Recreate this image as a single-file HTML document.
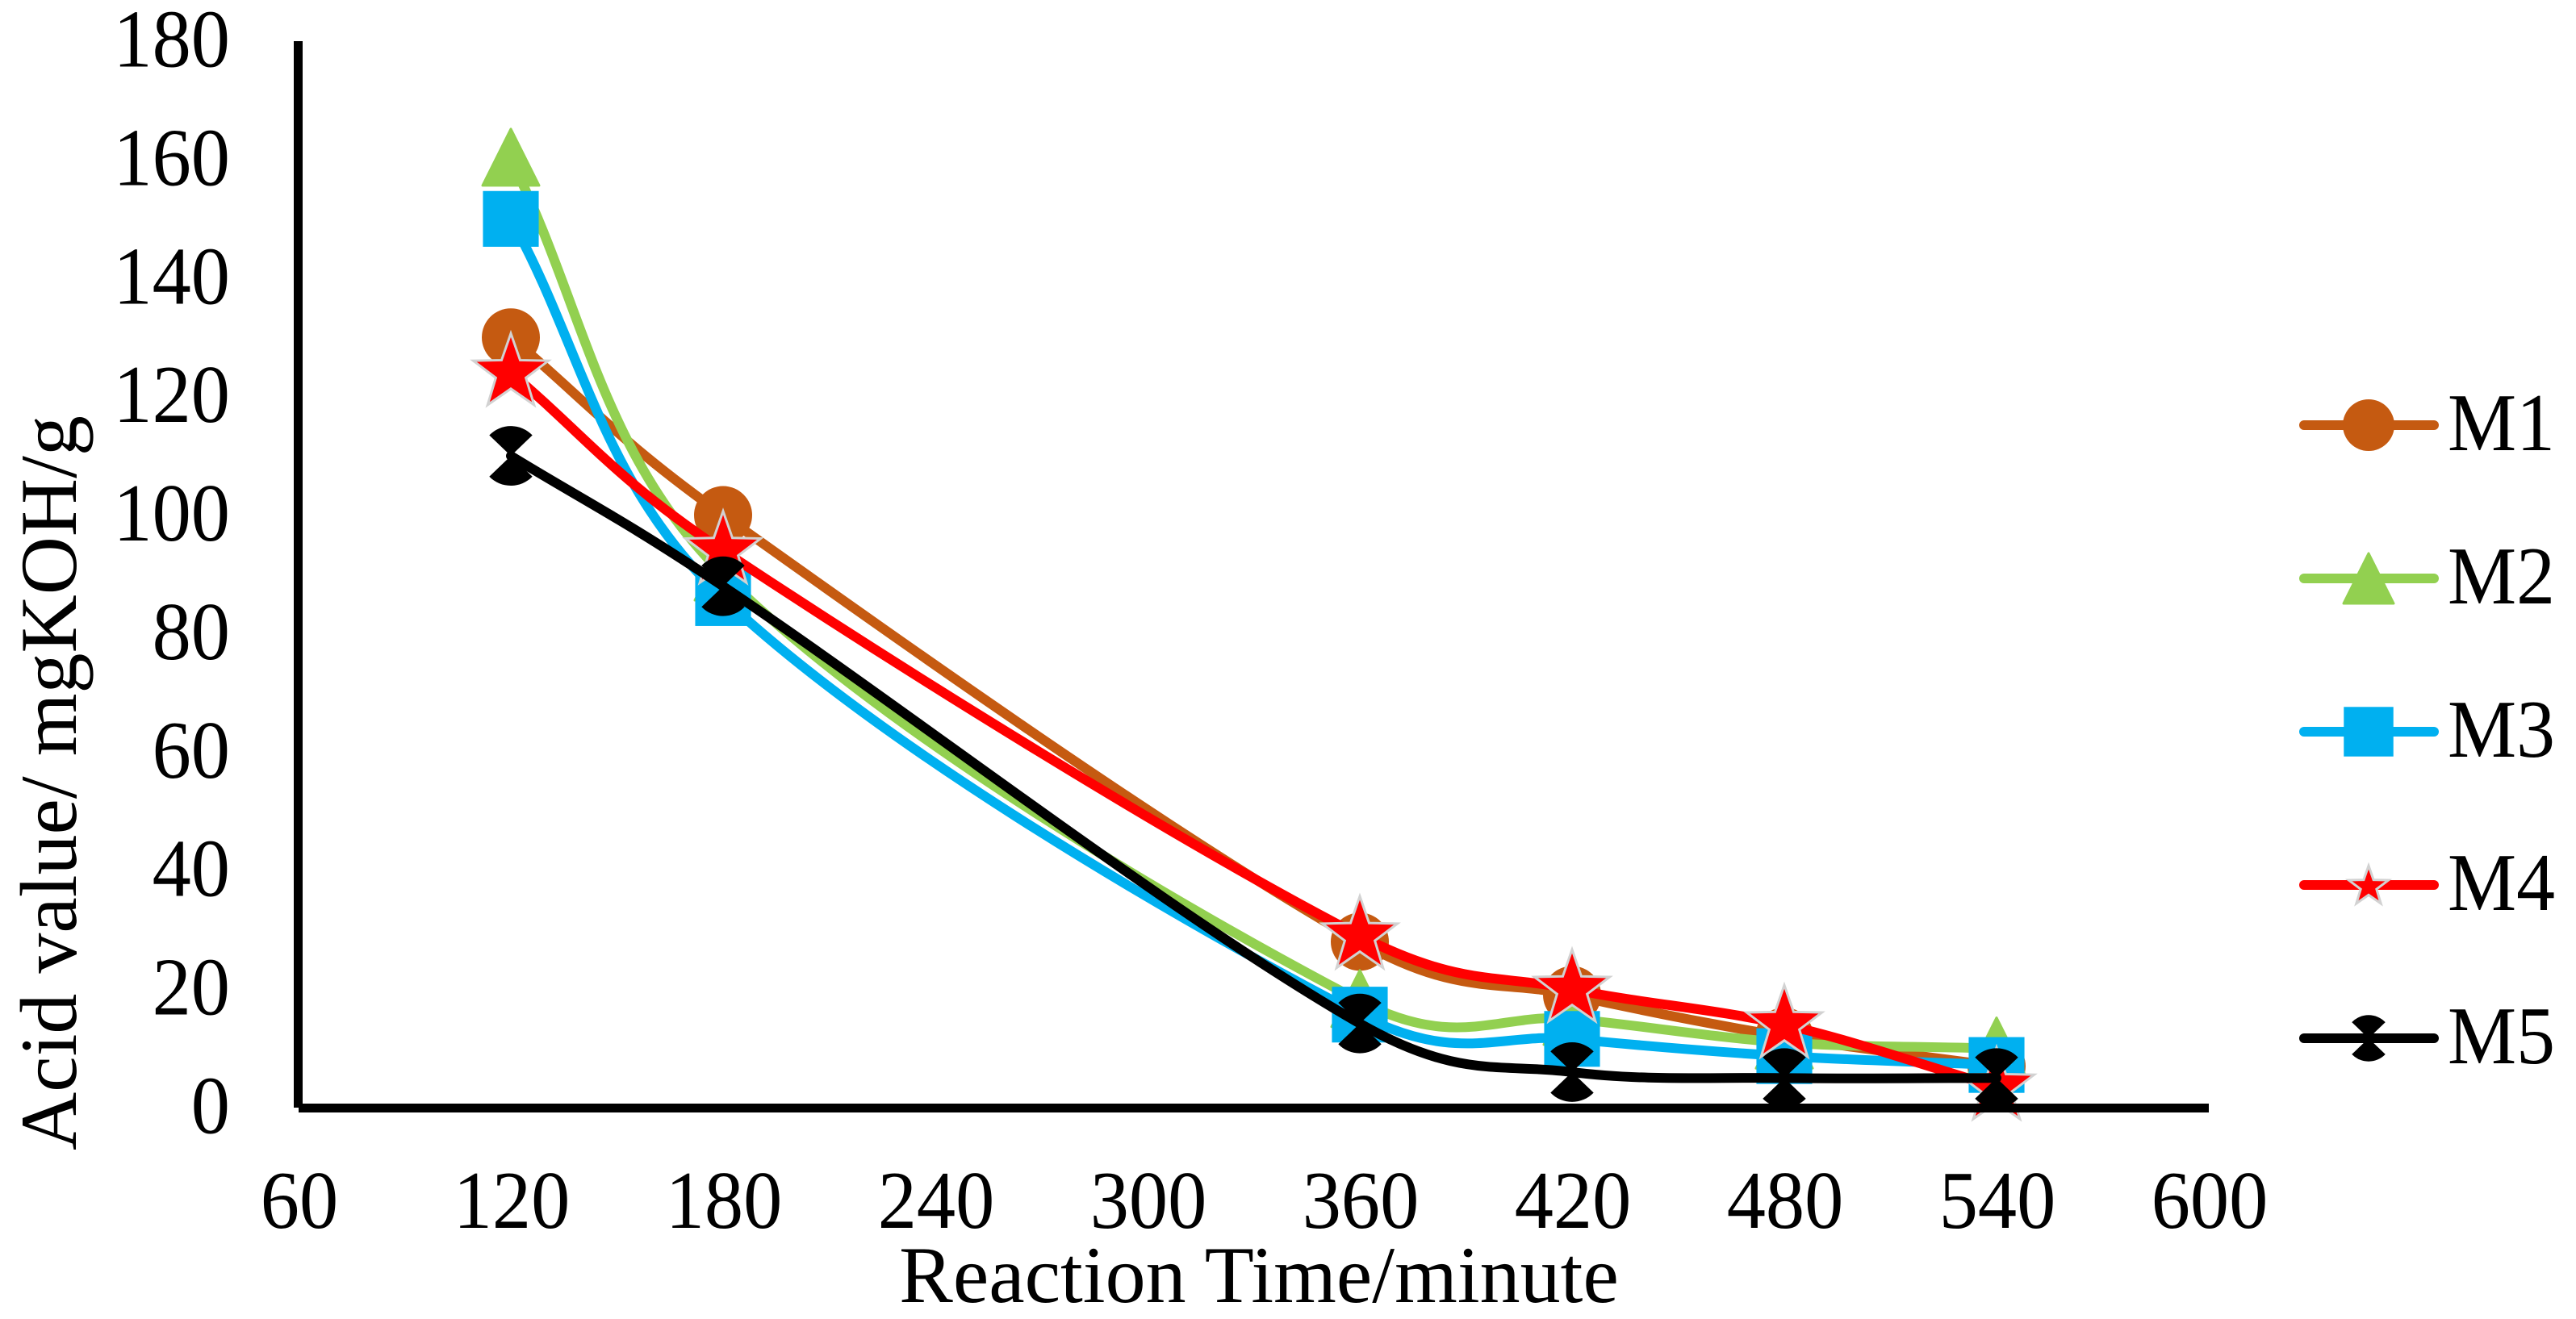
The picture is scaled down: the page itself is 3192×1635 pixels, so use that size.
<!DOCTYPE html>
<html lang="en">
<head>
<meta charset="utf-8">
<title>Acid value vs Reaction Time</title>
<style>
html,body{margin:0;padding:0;background:#fff;}
svg{display:block;}
text{font-family:"Liberation Serif","Times New Roman",serif;fill:#000;text-rendering:geometricPrecision;}
</style>
</head>
<body>
<svg id="chart" xmlns="http://www.w3.org/2000/svg" width="3192" height="1635" viewBox="0 0 3192 1635">
<rect x="0" y="0" width="3192" height="1635" fill="#ffffff"/>
<g id="series-layer"></g>
<g id="axis-layer"></g>
<g id="legend-layer"></g>
<text x="1560" y="1614" font-size="100" text-anchor="middle">Reaction Time/minute</text>
<text transform="translate(94,1426) rotate(-90)" x="0" y="0" font-size="100">Acid value/ mgKOH/g</text>
</svg>
<script>
const times = [120, 180, 360, 420, 480, 540];
const m1Values = [130, 100, 28, 19, 12, 7];
const m2Values = [160, 90, 18, 15, 11, 10];
const m3Values = [150, 86, 15.7, 11.6, 8.7, 7.2];
const m4Values = [124, 94, 29, 20, 14, 3.5];
const m5Values = [110, 88, 14.2, 6, 5, 5];
const seriesNames = ['M1', 'M2', 'M3', 'M4', 'M5'];
const xTicks = [60, 120, 180, 240, 300, 360, 420, 480, 540, 600];
const yTicks = [0, 20, 40, 60, 80, 100, 120, 140, 160, 180];

const NS = 'http://www.w3.org/2000/svg';
const colors = ['#c55a11', '#92d050', '#00b0f0', '#ff0000', '#000000'];
const shapes = ['circle', 'triangle', 'square', 'star', 'bowtie'];
const allValues = [m1Values, m2Values, m3Values, m4Values, m5Values];

function xScale(t) { return 370 + (t - 60) * 263 / 60; }
function yScale(v) { return 1373 - v * 1322 / 180; }

function make(tag, attrs) {
  const el = document.createElementNS(NS, tag);
  for (const k in attrs) el.setAttribute(k, attrs[k]);
  return el;
}

function smoothPath(pts) {
  function dist(a, b) { return Math.sqrt(Math.hypot(b[0] - a[0], b[1] - a[1])); }
  let d = 'M' + pts[0][0].toFixed(2) + ',' + pts[0][1].toFixed(2);
  for (let i = 0; i < pts.length - 1; i++) {
    const p0 = pts[Math.max(i - 1, 0)];
    const p1 = pts[i];
    const p2 = pts[i + 1];
    const p3 = pts[Math.min(i + 2, pts.length - 1)];
    const d01 = dist(p0, p1);
    const d12 = dist(p1, p2);
    const d23 = dist(p2, p3);
    const a = d12 / (d01 + d12) / 3;
    const b = d12 / (d12 + d23) / 3;
    const c1x = p1[0] + (p2[0] - p0[0]) * a;
    const c1y = p1[1] + (p2[1] - p0[1]) * a;
    const c2x = p2[0] - (p3[0] - p1[0]) * b;
    const c2y = p2[1] - (p3[1] - p1[1]) * b;
    d += 'C' + c1x.toFixed(2) + ',' + c1y.toFixed(2) + ' ' + c2x.toFixed(2) + ',' + c2y.toFixed(2) + ' ' + p2[0].toFixed(2) + ',' + p2[1].toFixed(2);
  }
  return d;
}

function starPath(cx, cy, R) {
  let d = '';
  for (let i = 0; i < 10; i++) {
    const r = i % 2 === 0 ? R : R * 0.4;
    const ang = -Math.PI / 2 + i * Math.PI / 5;
    d += (i === 0 ? 'M' : 'L') + (cx + r * Math.cos(ang)).toFixed(2) + ',' + (cy + r * Math.sin(ang)).toFixed(2);
  }
  return d + 'Z';
}

function bowtiePath(cx, cy, r) {
  const s = r * 0.72;
  const h = r * 0.69;
  return 'M' + cx + ',' + cy + 'L' + (cx - s) + ',' + (cy - h) + 'A' + r + ',' + r + ' 0 0 1 ' + (cx + s) + ',' + (cy - h) + 'Z' +
         'M' + cx + ',' + cy + 'L' + (cx + s) + ',' + (cy + h) + 'A' + r + ',' + r + ' 0 0 1 ' + (cx - s) + ',' + (cy + h) + 'Z';
}

function marker(shape, color, cx, cy, size) {
  let el;
  if (shape === 'circle') {
    el = make('circle', { cx: cx, cy: cy, r: size, fill: color });
  } else if (shape === 'triangle') {
    const top = cy - size - 3;
    const base = cy + size - 3;
    el = make('polygon', {
      points: cx + ',' + (top + 1) + ' ' + (cx + size - 1) + ',' + (base - 1) + ' ' + (cx - size + 1) + ',' + (base - 1),
      fill: color, stroke: color, 'stroke-width': 3, 'stroke-linejoin': 'round'
    });
  } else if (shape === 'square') {
    const half = size * 0.96;
    el = make('rect', { x: cx - half, y: cy - half, width: half * 2, height: half * 2, fill: color });
  } else if (shape === 'star') {
    el = make('path', {
      d: starPath(cx, cy, size * 1.36),
      fill: color, stroke: '#d2d2d2', 'stroke-width': 3, 'stroke-linejoin': 'miter'
    });
  } else {
    el = make('path', { d: bowtiePath(cx, cy, size * 1.03), fill: color });
  }
  return el;
}

const seriesLayer = document.getElementById('series-layer');
allValues.forEach(function (values, s) {
  const group = make('g', {});
  
  
  const pts = values.map(function (v, i) { return [xScale(times[i]), yScale(v)]; });
  const line = make('path', {
    d: smoothPath(pts), fill: 'none', stroke: colors[s], 'stroke-width': 12,
    'stroke-linecap': 'round', 'stroke-linejoin': 'round'
  });
  
  
  group.appendChild(line);
  pts.forEach(function (p, i) {
    const m = marker(shapes[s], colors[s], p[0], p[1], 36);
    
    
    group.appendChild(m);
  });
  seriesLayer.appendChild(group);
});

const axisLayer = document.getElementById('axis-layer');
const yAxis = make('line', { x1: xScale(60) - 0.5, y1: yScale(180), x2: xScale(60) - 0.5, y2: yScale(0), stroke: '#000', 'stroke-width': 11 });


axisLayer.appendChild(yAxis);
const xAxis = make('line', { x1: xScale(60), y1: yScale(0) + 0.5, x2: xScale(600), y2: yScale(0) + 0.5, stroke: '#000', 'stroke-width': 11 });


axisLayer.appendChild(xAxis);

function tickWidth(label) { return String(label).length * 51 * 0.945; }

xTicks.forEach(function (t) {
  const label = make('text', { x: xScale(t) + 1, y: 1522, 'font-size': 102, 'text-anchor': 'middle', textLength: tickWidth(t), lengthAdjust: 'spacingAndGlyphs' });
  label.textContent = String(t);
  
  
  axisLayer.appendChild(label);
});
yTicks.forEach(function (v) {
  const label = make('text', { x: 285, y: yScale(v) + 31.5, 'font-size': 102, 'text-anchor': 'end', textLength: tickWidth(v), lengthAdjust: 'spacingAndGlyphs' });
  label.textContent = String(v);
  
  
  axisLayer.appendChild(label);
});

const legendLayer = document.getElementById('legend-layer');
seriesNames.forEach(function (name, s) {
  const cy = 527 + s * 190;
  const entry = make('g', {});
  
  
  const line = make('line', { x1: 2855, y1: cy, x2: 3016, y2: cy, stroke: colors[s], 'stroke-width': 12, 'stroke-linecap': 'round' });
  
  
  entry.appendChild(line);
  const size = shapes[s] === 'star' ? 19 : (shapes[s] === 'bowtie' ? 28 : 32);
  const mk = marker(shapes[s], colors[s], 2935, cy + (shapes[s] === 'triangle' ? 3 : (shapes[s] === 'star' ? 2 : 0)), size);
  
  
  entry.appendChild(mk);
  const label = make('text', { x: 3033, y: cy + 31, 'font-size': 102, textLength: 133, lengthAdjust: 'spacingAndGlyphs' });
  label.textContent = name;
  
  
  entry.appendChild(label);
  legendLayer.appendChild(entry);
});
</script>
</body>
</html>
